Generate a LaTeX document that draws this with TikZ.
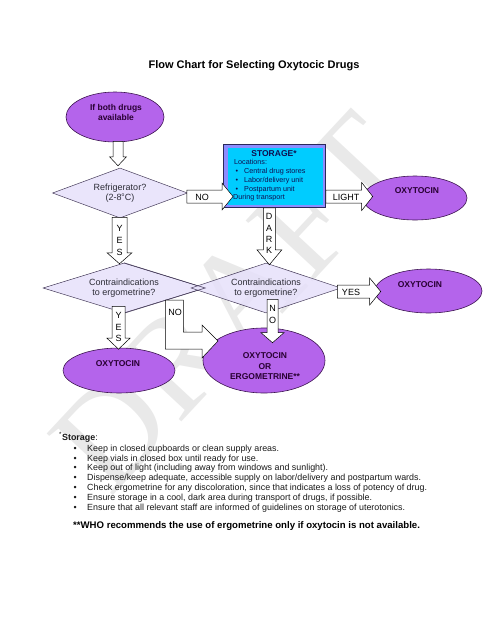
\documentclass[tikz,border=0pt]{standalone}
\usepackage{fontspec}
\setmainfont{Liberation Sans}
\newfontfamily\wmfont{Liberation Serif}
\usetikzlibrary{shapes.geometric,calc}
\definecolor{ellfill}{RGB}{180,100,235}
\definecolor{ellline}{RGB}{60,20,80}
\definecolor{elltext}{RGB}{40,0,50}
\definecolor{diafill}{RGB}{230,224,250}
\definecolor{dialine}{RGB}{70,60,90}
\definecolor{diatext}{RGB}{45,45,55}
\definecolor{storeout}{RGB}{140,140,255}
\definecolor{storein}{RGB}{0,204,255}
\definecolor{storeline}{RGB}{40,40,90}
\definecolor{storetext}{RGB}{15,15,80}
\definecolor{foottext}{RGB}{25,25,25}
\newcommand{\vblock}[5]{\draw[barrow] ($(#1)+(-#3,0)$) -- ($(#1)+(#3,0)$) -- ($(#2)+(#3,-#5)$) -- ($(#2)+(#4,-#5)$) -- (#2) -- ($(#2)+(-#4,-#5)$) -- ($(#2)+(-#3,-#5)$) -- cycle;}
\newcommand{\hblock}[5]{\draw[barrow] ($(#1)+(0,-#3)$) -- ($(#2)+(-#5,-#3)$) -- ($(#2)+(-#5,-#4)$) -- (#2) -- ($(#2)+(-#5,#4)$) -- ($(#2)+(-#5,#3)$) -- ($(#1)+(0,#3)$) -- cycle;}
\tikzset{
  ell/.style={ellipse, draw=ellline, fill=ellfill, line width=0.6pt, inner sep=0pt},
  elltxt/.style={font=\fontsize{8.5}{10.5}\selectfont\bfseries, text=elltext, align=center, inner sep=0pt},
  dia/.style={diamond, aspect=3, draw=dialine, fill=diafill, fill opacity=0.85, text opacity=1, line width=0.5pt, inner sep=0pt, font=\fontsize{9}{10}\selectfont, text=diatext, align=center},
  barrow/.style={draw=black, fill=white, line width=0.5pt, line join=miter},
  lbl/.style={font=\fontsize{9}{9}\selectfont, text=black, inner sep=0pt},
  sttxt/.style={font=\fontsize{7.2}{8}\selectfont, text=storetext, inner sep=0pt, anchor=base west},
}
\begin{document}
\begin{tikzpicture}[x=1pt,y=-1pt]
\useasboundingbox (0,0) rectangle (495,640);
% watermark
\node[rotate=47, text=gray!17, font=\wmfont\fontsize{138}{138}\selectfont, inner sep=0pt] (wm) at (232,302) {DRAFT};
% title
\node[font=\fontsize{11}{12}\selectfont\bfseries, anchor=base, inner sep=0pt] (title) at (254,68.9) {Flow Chart for Selecting Oxytocic Drugs};
% diamonds
\node[dia, minimum width=135pt, minimum height=50pt] (d1) at (120,193) {Refrigerator?\\(2-8\textsuperscript{\fontsize{5}{5}\selectfont o}C)};
\node[dia, minimum width=162pt, minimum height=50pt] (d3) at (124,288) {Contraindications\\to ergometrine?};
\node[dia, minimum width=150pt, minimum height=50pt] (d2) at (266,288) {Contraindications\\to ergometrine?};
\draw[draw=dialine, line width=0.5pt] (d3.north) -- (d3.east) -- (d3.south);
% ellipses
\node[ell, minimum width=98pt, minimum height=50pt] (e0) at (115,117) {};
\node[elltxt] (e0t) at (116,112.5) {If both drugs\\available};
\node[ell, minimum width=104pt, minimum height=44pt] (e1) at (415,198) {};
\node[elltxt] (e1t) at (417,191) {OXYTOCIN};
\node[ell, minimum width=107pt, minimum height=44pt] (e2) at (428.5,291) {};
\node[elltxt] (e2t) at (420,285) {OXYTOCIN};
\node[ell, minimum width=112pt, minimum height=45pt] (e3) at (119,370.5) {};
\node[elltxt] (e3t) at (118,364) {OXYTOCIN};
\node[ell, minimum width=122pt, minimum height=65pt] (e4) at (264,360.5) {};
\node[elltxt] (e4t) at (265,366.5) {OXYTOCIN\\OR\\ERGOMETRINE**};
% storage box
\node[draw=storeline, fill=storeout, line width=0.8pt, minimum width=102pt, minimum height=63pt, inner sep=0pt, anchor=north west] (store) at (223,144) {};
\node[fill=storein, minimum width=95pt, minimum height=57pt, inner sep=0pt, anchor=north west] (storei) at (228,148) {};
\node[font=\fontsize{8.5}{9}\selectfont\bfseries, text=storetext, inner sep=0pt, anchor=base] (stt) at (274,156) {STORAGE*};
\node[sttxt] (st1) at (234,164.5) {Locations:};
\node[sttxt, anchor=base] (sb1) at (237,173.5) {•};
\node[sttxt] (st2) at (244,173.5) {Central drug stores};
\node[sttxt, anchor=base] (sb2) at (237,182.5) {•};
\node[sttxt] (st3) at (244,182.5) {Labor/delivery unit};
\node[sttxt, anchor=base] (sb3) at (237,191.5) {•};
\node[sttxt] (st4) at (244,191.5) {Postpartum unit};
\node[sttxt] (st5) at (233,199.5) {During transport};
% arrow anchor points
\coordinate (a0s) at ($(e0.south)+(3,-1)$);
\coordinate (a0t) at ($(a0s |- d1.north)+(0,-2)$);
\coordinate (n1s) at ($(d1.east)+(-1,3.5)$);
\coordinate (n1t) at ($(store.west |- n1s)+(10,0)$);
\coordinate (lts) at (store.east |- n1s);
\coordinate (ltt) at ($(e1.west |- n1s)+(10,0)$);
\coordinate (dks) at ($(store.south)+(-5,0)$);
\coordinate (dkt) at ($(dks |- d2.north)+(0,2)$);
\coordinate (y1s) at ($(d1.south)+(-0.5,-1)$);
\coordinate (y1t) at ($(y1s |- d3.north)+(0,1)$);
\coordinate (y2s) at ($(d3.south)+(-5.5,-7)$);
\coordinate (y2t) at ($(y2s |- e3.north)+(0,1.5)$);
\coordinate (y3s) at ($(d2.east)+(-4,3.5)$);
\coordinate (y3t) at ($(e2.west |- y3s)+(6,0)$);
\coordinate (n2s) at ($(d2.south)+(6.5,-14)$);
\coordinate (n2t) at ($(n2s |- e4.north)+(0,15)$);
\coordinate (elbS) at ($(d3.east)+(-40,12)$);
\coordinate (elbT) at ($(e4.center)+(-46,-19.5)$);
% block arrows
\vblock{a0s}{a0t}{5}{8.5}{9}
\hblock{n1s}{n1t}{6.5}{13.5}{11}
\hblock{lts}{ltt}{6.5}{14}{11}
\vblock{dks}{dkt}{6}{12.5}{15}
\vblock{y1s}{y1t}{7.5}{12.5}{11}
\vblock{y2s}{y2t}{6.5}{11.5}{11}
\hblock{y3s}{y3t}{6.5}{13.5}{11}
\vblock{n2s}{n2t}{5.5}{11.5}{10}
\draw[barrow] (elbS) -- ($(elbS)+(18,0)$) -- ($(elbS)+(18,32)$) -- ($(elbT)+(-16,-9)$) -- ($(elbT)+(-16,-16)$) -- (elbT) -- ($(elbT)+(-16,17)$) -- ($(elbT)+(-16,8)$) -- ($(elbS)+(0,49)$) -- cycle;
% arrow labels
\node[lbl] (lno1) at (202,197) {NO};
\node[lbl] (llight) at (346,197) {LIGHT};
\node[lbl] (lyes3) at (351,292) {YES};
\node[lbl] (lno3) at (175,312) {NO};
\node[lbl] (ly1a) at (119.5,228) {Y};
\node[lbl] (ly1b) at (119.5,240) {E};
\node[lbl] (ly1c) at (119.5,252) {S};
\node[lbl] (ly2a) at (118.5,315) {Y};
\node[lbl] (ly2b) at (118.5,327) {E};
\node[lbl] (ly2c) at (118.5,338) {S};
\node[lbl] (ldk1) at (269,216) {D};
\node[lbl] (ldk2) at (269,228) {A};
\node[lbl] (ldk3) at (269,239) {R};
\node[lbl] (ldk4) at (269,250) {K};
\node[lbl] (ln2a) at (272.5,308) {N};
\node[lbl] (ln2b) at (272.5,320) {O};
% footer
\node[font=\fontsize{8.9}{9.8}\selectfont, text=foottext, inner sep=0pt, anchor=base west] (fh) at (59,440) {\textsuperscript{*}\textbf{Storage}:};
\node[font=\fontsize{8.9}{9.8}\selectfont, text=foottext, inner sep=0pt, anchor=north west] (flist) at (73.4,444.2) {%
\begin{tabular}{@{}p{13.6pt}@{}l@{}}
• & Keep in closed cupboards or clean supply areas.\\
• & Keep vials in closed box until ready for use.\\
• & Keep out of light (including away from windows and sunlight).\\
• & Dispense/keep adequate, accessible supply on labor/delivery and postpartum wards.\\
• & Check ergometrine for any discoloration, since that indicates a loss of potency of drug.\\
• & Ensure storage in a cool, dark area during transport of drugs, if possible.\\
• & Ensure that all relevant staff are informed of guidelines on storage of uterotonics.
\end{tabular}};
\node[font=\fontsize{9.6}{11}\selectfont\bfseries, inner sep=0pt, anchor=base west] (who) at (73,528.4) {**WHO recommends the use of ergometrine only if oxytocin is not available.};
\end{tikzpicture}
\end{document}
